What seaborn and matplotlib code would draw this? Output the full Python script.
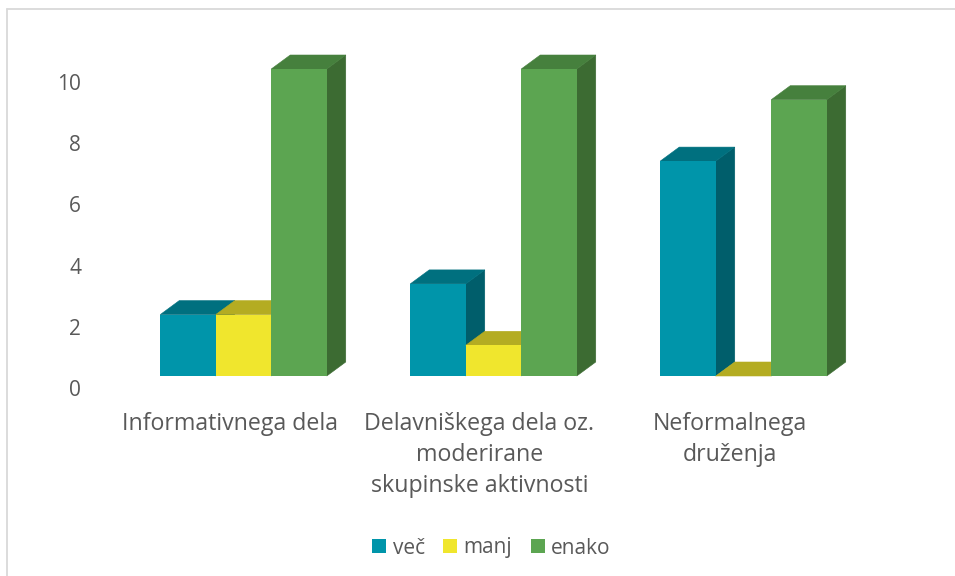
import matplotlib.pyplot as plt
import matplotlib.transforms as mtrans
from matplotlib.lines import Line2D
from matplotlib.patches import Polygon, Rectangle
import pandas as pd
import seaborn as sns

# chart values
categories = [
    "Informativnega dela",
    "Delavniškega dela oz.\nmoderirane\nskupinske aktivnosti",
    "Neformalnega\ndruženja",
]
vec = [2, 3, 7]
manj = [2, 1, 0]
enako = [10, 10, 9]
series = ["več", "manj", "enako"]
front_colors = ["#0095AA", "#F0E62D", "#5CA551"]
top_colors = ["#00707F", "#B4AC22", "#46803D"]
side_colors = ["#005E6B", "#A09A1E", "#3C6B32"]
text_color = "#595959"

W, H = 955, 576

sns.set_theme(style="white")
plt.rcParams["font.family"] = ["Open Sans", "DejaVu Sans"]

df = pd.DataFrame({"kategorija": categories, "več": vec, "manj": manj, "enako": enako})
df = df.melt(id_vars="kategorija", var_name="serija", value_name="vrednost")

fig = plt.figure(figsize=(W / 100, H / 100), dpi=100)
ax = fig.add_axes([118.5 / W, (H - 376) / H, 750 / W, 322.35 / H])

sns.barplot(
    data=df, x="kategorija", y="vrednost", hue="serija", hue_order=series,
    palette=front_colors, saturation=1, width=0.666, gap=0, linewidth=0,
    legend=False, ax=ax,
)
ax.set_xlim(-0.5, 2.5)
ax.set_ylim(0, 10.5)
ax.set_xlabel("")
ax.set_ylabel("")
sns.despine(ax=ax, left=True, bottom=True, top=True, right=True)

# fake 3d: a top and side face on every bar, depth in data units
depth_x = 19 / 250
depth_y = 14 / 30.7
for i, cont in enumerate(ax.containers):
    for j, bar in enumerate(cont):
        x0 = bar.get_x()
        x1 = x0 + bar.get_width()
        h = bar.get_height()
        z = 3 + j * 10 + i * 3
        bar.set_zorder(z + 2)
        top = [(x0, h), (x1, h), (x1 + depth_x, h + depth_y), (x0 + depth_x, h + depth_y)]
        side = [(x1, 0), (x1 + depth_x, depth_y), (x1 + depth_x, h + depth_y), (x1, h)]
        ax.add_patch(Polygon(side, closed=True, fc=side_colors[i], ec=side_colors[i], lw=0.4, zorder=z, clip_on=False))
        ax.add_patch(Polygon(top, closed=True, fc=top_colors[i], ec=top_colors[i], lw=0.4, zorder=z + 1, clip_on=False))

ax.set_yticks(range(0, 11, 2))
ax.tick_params(axis="y", length=0, pad=27, labelsize=15, labelcolor=text_color)
ax.tick_params(axis="x", length=0, pad=26, labelsize=16.7, labelcolor=text_color)

# axis labels sit lower and further left than the bars, like the 3d floor
shift_y = mtrans.ScaledTranslation(0, -12.5 / 100, fig.dpi_scale_trans)
shift_x = mtrans.ScaledTranslation(-14 / 100, 0, fig.dpi_scale_trans)
for lab in ax.get_yticklabels():
    lab.set_transform(lab.get_transform() + shift_y)
for lab in ax.get_xticklabels():
    lab.set_transform(lab.get_transform() + shift_x)
    lab.set_linespacing(1.39)

handles = [Rectangle((0, 0), 1, 1, fc=c, lw=0) for c in front_colors]
fig.legend(
    handles, series, loc="center", bbox_to_anchor=(491.5 / W, (H - 548) / H),
    ncol=3, frameon=False, fontsize=15, labelcolor=text_color,
    handlelength=0.67, handleheight=0.67, handletextpad=0.3, columnspacing=0.9,
)

# chart frame, cut off on the right and bottom in the source
fig.add_artist(Line2D([6.5 / W, 6.5 / W], [0, (H - 8.5) / H], color="#D9D9D9", lw=1.3))
fig.add_artist(Line2D([6.5 / W, 1], [(H - 8.5) / H, (H - 8.5) / H], color="#D9D9D9", lw=1.3))

fig.savefig("out.png", dpi=100)
